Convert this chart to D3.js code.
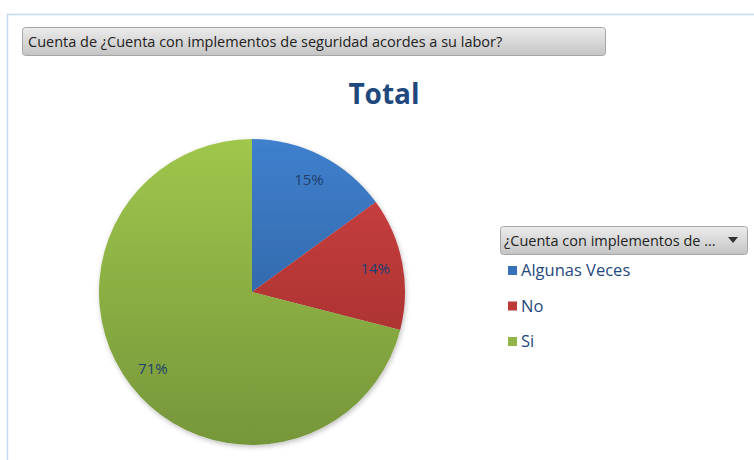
<!DOCTYPE html>
<html>
<head>
<meta charset="utf-8">
<script src="https://cdn.jsdelivr.net/npm/d3@7"></script>
<style>
  body { margin: 0; background: #fff; }
  text { font-family: "Open Sans", "DejaVu Sans", sans-serif; }
</style>
</head>
<body>
<div id="chart"></div>
<script>
var categories = ["Algunas Veces", "No", "Si"];
var values = [15, 14, 71];
var labels = ["15%", "14%", "71%"];
var fieldTitle = "Cuenta de ¿Cuenta con implementos de seguridad acordes a su labor?";
var legendTitle = "¿Cuenta con implementos de ...";
var chartTitle = "Total";

var topColors = ["#3f80cd", "#d04242", "#a0c64c"];
var bottomColors = ["#28558f", "#992b29", "#76963a"];

const width = 754;
const height = 460;
const cx = 252, cy = 292, radius = 153;

let svg = d3.select('#chart')
    .append('svg')
    .attr('width', width)
    .attr('height', height);

let defs = svg.append('defs');

categories.forEach(function(c, i) {
    let grad = defs.append('linearGradient')
        .attr('id', 'g' + i)
        .attr('gradientUnits', 'userSpaceOnUse')
        .attr('x1', 0).attr('y1', -radius)
        .attr('x2', 0).attr('y2', radius);
    grad.append('stop').attr('offset', 0).attr('stop-color', topColors[i]);
    grad.append('stop').attr('offset', 1).attr('stop-color', bottomColors[i]);
});

let btn = defs.append('linearGradient')
    .attr('id', 'btn')
    .attr('x1', 0).attr('y1', 0).attr('x2', 0).attr('y2', 1);
btn.append('stop').attr('offset', 0).attr('stop-color', '#ececec');
btn.append('stop').attr('offset', 1).attr('stop-color', '#c4c4c4');

let shadow = defs.append('filter').attr('id', 'shadow')
    .attr('x', '-20%').attr('y', '-20%').attr('width', '140%').attr('height', '140%');
shadow.append('feDropShadow')
    .attr('dx', 1).attr('dy', 2).attr('stdDeviation', 2.5)
    .attr('flood-color', '#000').attr('flood-opacity', 0.25);

// chart frame
svg.append('path')
    .attr('d', 'M7.5,' + height + ' L7.5,14.5 L' + width + ',14.5')
    .attr('fill', 'none')
    .attr('stroke', '#c5d9f1')
    .attr('stroke-width', 1.5);

// field button
svg.append('rect')
    .attr('x', 22.5).attr('y', 27.5)
    .attr('width', 583).attr('height', 28)
    .attr('rx', 3)
    .attr('fill', 'url(#btn)')
    .attr('stroke', '#a6a6a6');

svg.append('text')
    .attr('x', 28).attr('y', 47)
    .style('font-size', '14.5px')
    .style('fill', '#222')
    .text(fieldTitle);

// title
svg.append('text')
    .attr('x', 384).attr('y', 104)
    .attr('text-anchor', 'middle')
    .style('font-size', '28px')
    .style('font-weight', 'bold')
    .style('fill', '#1f497d')
    .text(chartTitle);

// pie
const pie = d3.pie().sort(null).value((d) => d);
const arc = d3.arc().innerRadius(0).outerRadius(radius);
const labelArc = d3.arc().innerRadius(radius * 0.82).outerRadius(radius * 0.82);

let g = svg.append('g')
    .attr('transform', `translate(${cx}, ${cy})`);

let arcs = pie(values);

g.append('g')
    .attr('filter', 'url(#shadow)')
    .selectAll('path')
    .data(arcs)
    .enter()
    .append('path')
    .attr('d', arc)
    .attr('fill', (d, i) => 'url(#g' + i + ')');

g.selectAll('.lab')
    .data(arcs)
    .enter()
    .append('text')
    .attr('class', 'lab')
    .attr('transform', (d) => `translate(${labelArc.centroid(d)})`)
    .attr('text-anchor', 'middle')
    .attr('dy', '0.35em')
    .style('font-size', '15px')
    .style('fill', '#1f3f6e')
    .text((d, i) => labels[i]);

// legend
let lg = svg.append('g');
lg.append('rect')
    .attr('x', 500.5).attr('y', 226.5)
    .attr('width', 247).attr('height', 28)
    .attr('rx', 3)
    .attr('fill', 'url(#btn)')
    .attr('stroke', '#a6a6a6');

lg.append('text')
    .attr('x', 504).attr('y', 246)
    .style('font-size', '14.5px')
    .style('fill', '#222')
    .text(legendTitle);

lg.append('path')
    .attr('d', 'M728,237 L738,237 L733,243 Z')
    .attr('fill', '#333');

let items = lg.selectAll('.item')
    .data(categories)
    .enter()
    .append('g')
    .attr('class', 'item')
    .attr('transform', (d, i) => `translate(508, ${266 + i * 35.5})`);

items.append('rect')
    .attr('width', 9).attr('height', 9)
    .attr('fill', (d, i) => d3.interpolateRgb(topColors[i], bottomColors[i])(0.35));

items.append('text')
    .attr('x', 13).attr('y', 10)
    .style('font-size', '16.5px')
    .style('fill', '#1f497d')
    .text((d) => d);
</script>
</body>
</html>
